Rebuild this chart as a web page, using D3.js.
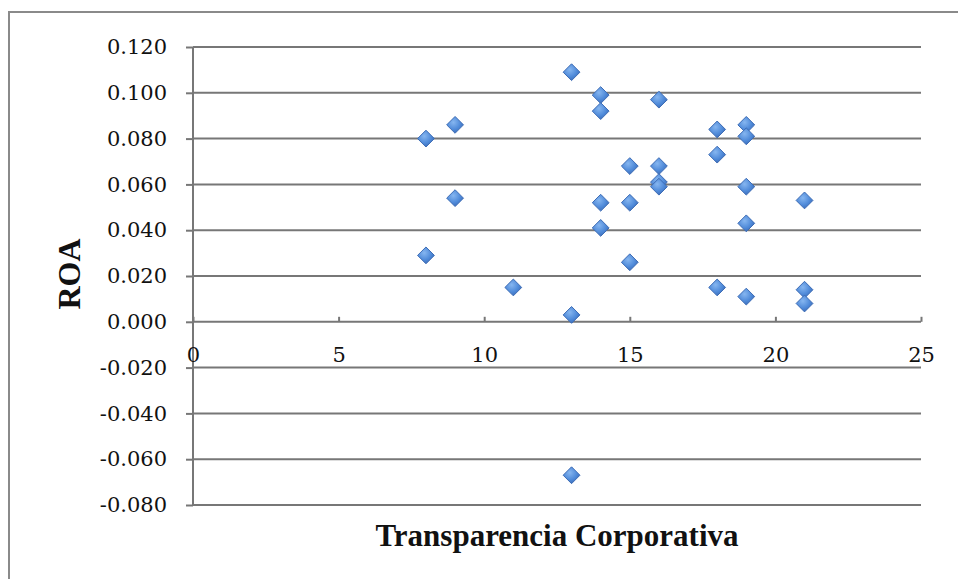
<!DOCTYPE html>
<html>
<head>
<meta charset="utf-8">
<script src="https://cdn.jsdelivr.net/npm/d3@7"></script>
<style>
  body { margin: 0; background: #fff; }
  svg { display: block; }
</style>
</head>
<body>
<script>
// Transparencia Corporativa vs ROA
let transparencia = [8, 8, 9, 9, 11, 13, 13, 13, 14, 14, 14, 14, 15, 15, 15,
                     16, 16, 16, 16, 18, 18, 18, 19, 19, 19, 19, 19, 21, 21, 21];
let roa = [0.080, 0.029, 0.086, 0.054, 0.015, 0.109, 0.003, -0.067, 0.099, 0.092, 0.052, 0.041, 0.068, 0.052, 0.026,
           0.097, 0.068, 0.061, 0.059, 0.084, 0.073, 0.015, 0.086, 0.081, 0.059, 0.043, 0.011, 0.053, 0.014, 0.008];
let xTicks = [0, 5, 10, 15, 20, 25];
let yTicks = [0.12, 0.10, 0.08, 0.06, 0.04, 0.02, 0, -0.02, -0.04, -0.06, -0.08];

let data = transparencia.map((t, i) => ({x: t, y: roa[i]}));

let width = 958;
let height = 579;
let svg = d3.select('body').append('svg')
            .attr('width', width)
            .attr('height', height);

// outer chart border
svg.append('rect')
   .attr('x', 9).attr('y', 12)
   .attr('width', 980).attr('height', 600)
   .attr('fill', 'none')
   .attr('stroke', '#8a8a8a')
   .attr('stroke-width', 2);

let x = d3.scaleLinear().domain([0, 25]).range([193, 921]);
let y = d3.scaleLinear().domain([-0.08, 0.12]).range([505, 47]);

let serif = "'DejaVu Serif', 'Liberation Serif', serif";
let titleFont = "'Liberation Serif', serif";
let fmt = d => d3.format('.3f')(d).replace('\u2212', '-');

// horizontal gridlines + y axis
let yAxis = d3.axisLeft(y)
              .tickValues(yTicks)
              .tickSize(7)
              .tickFormat(fmt);
let gy = svg.append('g')
            .attr('transform', `translate(${x(0)},0)`)
            .call(yAxis);
gy.select('.domain').remove();
gy.selectAll('.tick line').attr('stroke', '#777').attr('stroke-width', 2);
gy.selectAll('.tick text')
  .attr('x', -26)
  .attr('font-family', serif)
  .attr('font-size', 21)
  .attr('fill', '#111');

svg.append('g').selectAll('line').data(yTicks)
   .enter().append('line')
   .attr('x1', x(0)).attr('x2', x(25))
   .attr('y1', d => y(d)).attr('y2', d => y(d))
   .attr('stroke', '#777')
   .attr('stroke-width', 2);

// vertical axis line
svg.append('line')
   .attr('x1', x(0)).attr('x2', x(0))
   .attr('y1', y(0.12)).attr('y2', y(-0.08))
   .attr('stroke', '#777')
   .attr('stroke-width', 2);

// x axis crossing at 0
let xAxis = d3.axisBottom(x)
              .tickValues(xTicks)
              .tickSize(-5)
              .tickPadding(25);
let gx = svg.append('g')
            .attr('transform', `translate(0,${y(0)})`)
            .call(xAxis);
gx.select('.domain').remove();
gx.selectAll('.tick line').attr('stroke', '#777').attr('stroke-width', 2);
gx.selectAll('.tick text')
  .attr('font-family', serif)
  .attr('font-size', 21)
  .attr('fill', '#111');

// diamond markers
let defs = svg.append('defs');
let grad = defs.append('radialGradient')
               .attr('id', 'mk')
               .attr('cx', '40%').attr('cy', '35%').attr('r', '70%');
grad.append('stop').attr('offset', '0%').attr('stop-color', '#86b6f0');
grad.append('stop').attr('offset', '60%').attr('stop-color', '#4f8ad9');
grad.append('stop').attr('offset', '100%').attr('stop-color', '#3b69b3');

let diamond = d3.symbol().type(d3.symbolDiamond2).size(180);

svg.append('g').selectAll('path').data(data)
   .enter().append('path')
   .attr('d', diamond)
   .attr('transform', d => `translate(${x(d.x)},${y(d.y)})`)
   .attr('fill', 'url(#mk)')
   .attr('stroke', '#3d6cb5')
   .attr('stroke-width', 1);

// axis titles
svg.append('text')
   .attr('x', 557).attr('y', 546)
   .attr('text-anchor', 'middle')
   .attr('font-family', titleFont)
   .attr('font-weight', 'bold')
   .attr('font-size', 31)
   .attr('fill', '#111')
   .text('Transparencia Corporativa');

svg.append('text')
   .attr('transform', 'translate(80,274) rotate(-90)')
   .attr('text-anchor', 'middle')
   .attr('font-family', titleFont)
   .attr('font-weight', 'bold')
   .attr('font-size', 32)
   .attr('fill', '#111')
   .text('ROA');
</script>
</body>
</html>
